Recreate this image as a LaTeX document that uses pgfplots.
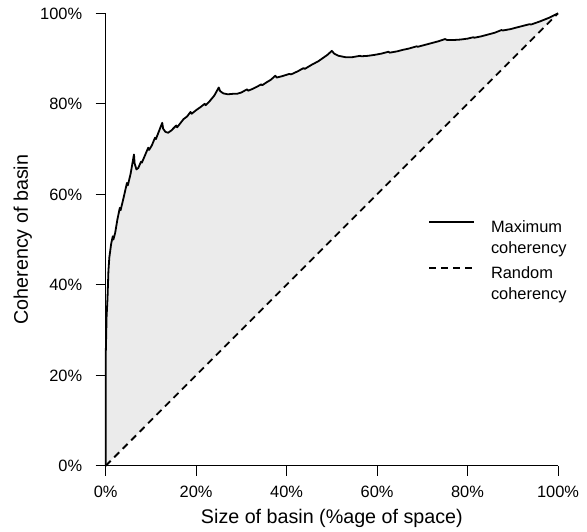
\documentclass[border=0pt]{standalone}
\usepackage{fontspec}
\setmainfont{Liberation Sans}
\usepackage{pgfplots}
\usepackage{pgfplotstable}
\pgfplotsset{compat=1.18}

% maximum coherency curve
\pgfplotstableread{
x y
0 0
0 0.24
0.002 0.33
0.004 0.37
0.006 0.43
0.008 0.46
0.012 0.49
0.0156 0.507
0.017 0.500
0.021 0.515
0.026 0.545
0.0312 0.570
0.033 0.565
0.039 0.590
0.044 0.612
0.047 0.625
0.049 0.620
0.055 0.645
0.0625 0.688
0.064 0.668
0.068 0.655
0.072 0.658
0.078 0.672
0.080 0.670
0.086 0.684
0.094 0.703
0.096 0.698
0.102 0.708
0.109 0.725
0.111 0.722
0.118 0.740
0.125 0.758
0.127 0.745
0.132 0.738
0.138 0.736
0.145 0.741
0.156 0.752
0.158 0.748
0.165 0.757
0.172 0.766
0.180 0.772
0.1875 0.782
0.190 0.778
0.200 0.786
0.210 0.793
0.219 0.800
0.221 0.797
0.230 0.806
0.240 0.818
0.250 0.836
0.253 0.828
0.260 0.823
0.270 0.821
0.281 0.822
0.290 0.822
0.300 0.825
0.3125 0.832
0.315 0.829
0.325 0.833
0.335 0.838
0.344 0.843
0.346 0.841
0.355 0.847
0.365 0.853
0.375 0.862
0.378 0.858
0.390 0.861
0.406 0.866
0.410 0.865
0.425 0.872
0.4375 0.879
0.440 0.877
0.455 0.886
0.470 0.894
0.480 0.901
0.490 0.908
0.500 0.917
0.505 0.911
0.515 0.906
0.530 0.903
0.545 0.903
0.5625 0.906
0.565 0.905
0.580 0.906
0.594 0.908
0.610 0.911
0.625 0.915
0.628 0.913
0.645 0.916
0.656 0.919
0.670 0.922
0.6875 0.927
0.690 0.926
0.705 0.930
0.720 0.934
0.735 0.938
0.750 0.943
0.755 0.941
0.770 0.941
0.785 0.942
0.800 0.944
0.8125 0.947
0.815 0.946
0.830 0.949
0.845 0.953
0.860 0.957
0.875 0.963
0.878 0.962
0.895 0.965
0.910 0.969
0.9375 0.976
0.940 0.975
0.960 0.982
0.980 0.990
1.000 1.000
}\maxcoh

\begin{document}
\begin{tikzpicture}
\begin{axis}[
  at={(0pt,0pt)}, anchor=south west,
  scale only axis,
  width=452.3pt, height=452.5pt,
  xmin=0, xmax=1, ymin=0, ymax=1,
  clip=false,
  axis lines=left,
  axis line style={-, black, line width=0.8pt},
  tick style={black, line width=0.8pt},
  tick align=outside,
  major tick length=10pt,
  xtick={0,0.2,0.4,0.6,0.8,1},
  ytick={0,0.2,0.4,0.6,0.8,1},
  xticklabels={0\%,20\%,40\%,60\%,80\%,100\%},
  yticklabels={0\%,20\%,40\%,60\%,80\%,100\%},
  tick label style={font=\fontsize{16.4}{19}\selectfont, inner sep=0pt},
  xticklabel style={anchor=base, yshift=-22pt},
  yticklabel style={anchor=base east, xshift=-13.4pt, yshift=-5.9pt},
  xlabel={Size of basin (\%age of space)},
  ylabel={Coherency of basin},
  label style={font=\fontsize{19.7}{23}\selectfont},
  xlabel style={at={(axis description cs:0.5,-0.116)}, anchor=center},
  ylabel style={at={(axis description cs:-0.1835,0.5)}, anchor=center},
  legend cell align=left,
  legend style={draw=none, fill=none, font=\fontsize{16.4}{20.7}\selectfont,
    at={(rel axis cs:0.706,0.547)}, anchor=north west,
    nodes={align=left, inner sep=0pt},
    column sep=16pt, row sep=12pt},
  legend image code/.code={\draw[#1] (0pt,15.5pt) -- (45pt,15.5pt);},
]
\addplot[fill=black!8, draw=none, forget plot] table {\maxcoh} --cycle;
\addplot[black, line width=1.8pt, line join=round] table {\maxcoh};
\addplot[black, line width=1.8pt, dash pattern=on 7pt off 5pt] coordinates {(0,0) (1,1)};
\legend{Maximum\\coherency, Random\\coherency}
\end{axis}
\pgfresetboundingbox
\path (-105.7pt,-66.2pt) rectangle (481.3pt,465.8pt);
\end{tikzpicture}
\end{document}
